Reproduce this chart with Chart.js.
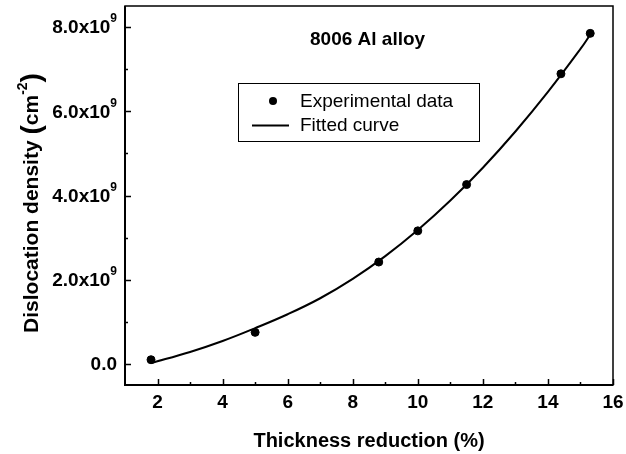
<!DOCTYPE html>
<html>
<head>
<meta charset="utf-8">
<script src="https://cdn.jsdelivr.net/npm/chart.js@4"></script>
<style>
  body { margin: 0; background: #fff; }
  #wrap { width: 626px; height: 454px; }
</style>
</head>
<body>
<div id="wrap"><canvas id="chart" width="626" height="454"></canvas></div>
<script>
// experimental points (x in %, y in cm^-2)
const expX = [1.8, 5.0, 8.8, 10.0, 11.5, 14.4, 15.3];
const expY = [0.10e9, 0.75e9, 2.42e9, 3.16e9, 4.26e9, 6.89e9, 7.85e9];

// fitted curve
const fitX = [1.8, 3, 4, 5, 6, 7, 8, 9, 10, 11, 12, 13, 14, 15, 15.3];
const fitY = [0.02e9, 0.285e9, 0.545e9, 0.85e9, 1.18e9, 1.56e9, 2.02e9, 2.56e9, 3.18e9, 3.88e9, 4.66e9, 5.52e9, 6.46e9, 7.48e9, 7.82e9];

const xTicks = [2, 4, 6, 8, 10, 12, 14, 16];
const xMinor = [3, 5, 7, 9, 11, 13, 15];
const yTicks = [0, 2e9, 4e9, 6e9, 8e9];
const yMinor = [1e9, 3e9, 5e9, 7e9];
const yTickLabels = ["0.0", "2.0x10^9", "4.0x10^9", "6.0x10^9", "8.0x10^9"];

const FONT = "'Liberation Sans', Arial, sans-serif";

function drawRich(ctx, parts, x, y, align) {
  let total = 0;
  parts.forEach(p => { ctx.font = p.font; total += ctx.measureText(p.t).width; });
  let cx = align === "right" ? x - total : align === "center" ? x - total / 2 : x;
  parts.forEach(p => {
    ctx.font = p.font;
    ctx.fillText(p.t, cx, y + (p.dy || 0));
    cx += ctx.measureText(p.t).width;
  });
}

const framePlugin = {
  id: "frame",
  afterDraw(chart) {
    const ctx = chart.ctx;
    const a = chart.chartArea;
    const xs = chart.scales.x;
    const ys = chart.scales.y;
    ctx.save();
    ctx.fillStyle = "#000";
    ctx.strokeStyle = "#000";

    // frame
    ctx.lineWidth = 1.5;
    ctx.strokeRect(a.left, a.top, a.right - a.left, a.bottom - a.top);
    ctx.lineWidth = 2;
    ctx.beginPath();
    ctx.moveTo(a.left, a.top);
    ctx.lineTo(a.left, a.bottom);
    ctx.lineTo(a.right, a.bottom);
    ctx.stroke();

    // ticks, pointing inward
    ctx.lineWidth = 1.5;
    ctx.beginPath();
    xTicks.forEach(v => {
      const px = Math.round(xs.getPixelForValue(v)) + 0.5;
      ctx.moveTo(px, a.bottom); ctx.lineTo(px, a.bottom - 6);
    });
    xMinor.forEach(v => {
      const px = Math.round(xs.getPixelForValue(v)) + 0.5;
      ctx.moveTo(px, a.bottom); ctx.lineTo(px, a.bottom - 3);
    });
    yTicks.forEach(v => {
      const py = Math.round(ys.getPixelForValue(v)) + 0.5;
      ctx.moveTo(a.left, py); ctx.lineTo(a.left + 6, py);
    });
    yMinor.forEach(v => {
      const py = Math.round(ys.getPixelForValue(v)) + 0.5;
      ctx.moveTo(a.left, py); ctx.lineTo(a.left + 3, py);
    });
    ctx.stroke();

    // x tick labels
    ctx.textBaseline = "middle";
    ctx.textAlign = "center";
    ctx.font = "bold 19px " + FONT;
    xTicks.forEach(v => ctx.fillText(String(v), xs.getPixelForValue(v), a.bottom + 18));

    // y tick labels with superscript
    ctx.textAlign = "left";
    yTicks.forEach((v, i) => {
      const [base, exp] = yTickLabels[i].split("^");
      const parts = [{ t: base, font: "bold 19px " + FONT }];
      if (exp) parts.push({ t: exp, font: "bold 12px " + FONT, dy: -9 });
      drawRich(ctx, parts, 117, ys.getPixelForValue(v) + 1, "right");
    });

    // x axis title
    ctx.textBaseline = "alphabetic";
    ctx.textAlign = "left";
    drawRich(ctx, [{ t: "Thickness reduction (%)", font: "bold 20px " + FONT }], 369, 447, "center");

    // y axis title, rotated
    ctx.save();
    ctx.translate(38, 203);
    ctx.rotate(-Math.PI / 2);
    drawRich(ctx, [
      { t: "Dislocation density ", font: "bold 21px " + FONT },
      { t: "(", font: "bold 28px " + FONT, dy: 2 },
      { t: "cm", font: "bold 21px " + FONT },
      { t: "-2", font: "bold 14px " + FONT, dy: -11 },
      { t: ")", font: "bold 28px " + FONT, dy: 2 }
    ], 0, 0, "center");
    ctx.restore();

    // inner title
    drawRich(ctx, [{ t: "8006 Al alloy", font: "bold 19px " + FONT }], 310, 45, "left");

    // legend
    const ds = chart.data.datasets;
    ctx.lineWidth = 1;
    ctx.strokeRect(238.5, 83.5, 241, 58);
    ctx.beginPath();
    ctx.arc(273, 101, ds[0].pointRadius, 0, Math.PI * 2);
    ctx.fill();
    ctx.lineWidth = ds[1].borderWidth;
    ctx.beginPath();
    ctx.moveTo(252, 125.5);
    ctx.lineTo(289, 125.5);
    ctx.stroke();
    ctx.font = "19px " + FONT;
    ctx.fillText(ds[0].label, 300, 107);
    ctx.fillText(ds[1].label, 300, 131);

    ctx.restore();
  }
};

new Chart(document.getElementById("chart"), {
  type: "scatter",
  data: {
    datasets: [
      {
        label: "Experimental data",
        data: expX.map((x, i) => ({ x: x, y: expY[i] })),
        pointRadius: 4,
        pointBackgroundColor: "#000",
        pointBorderColor: "#000",
        showLine: false
      },
      {
        label: "Fitted curve",
        data: fitX.map((x, i) => ({ x: x, y: fitY[i] })),
        showLine: true,
        borderColor: "#000",
        borderWidth: 2,
        pointRadius: 0,
        tension: 0.4
      }
    ]
  },
  options: {
    responsive: false,
    animation: false,
    layout: { padding: { left: 125, top: 6, right: 13, bottom: 69 } },
    plugins: { legend: { display: false }, tooltip: { enabled: false } },
    scales: {
      x: { type: "linear", min: 1, max: 16, display: false },
      y: { type: "linear", min: -0.5e9, max: 8.5e9, display: false }
    }
  },
  plugins: [framePlugin]
});
</script>
</body>
</html>
